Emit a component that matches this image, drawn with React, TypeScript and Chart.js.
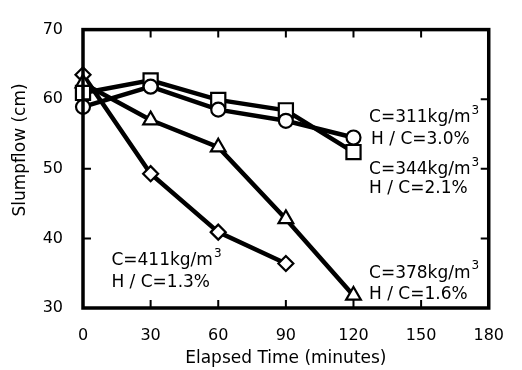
import React, { useEffect, useRef } from "react";
import { Chart, registerables } from "chart.js";

Chart.register(...registerables);

const times = [0, 30, 60, 90, 120];
const c311 = [58.9, 61.8, 58.5, 56.9, 54.5];
const c344 = [60.9, 62.7, 59.9, 58.4, 52.4];
const c378 = [62.3, 57.0, 53.1, 42.8, 31.8];
const c411 = [63.5, 49.3, 40.9, 36.4];

const xTicks = [0, 30, 60, 90, 120, 150, 180];
const yTicks = [30, 40, 50, 60, 70];

const xTitle = "Elapsed Time (minutes)";
const yTitle = "Slumpflow (cm)";

const labelTexts = [
  "C=311kg/m", "H / C=3.0%",
  "C=344kg/m", "H / C=2.1%",
  "C=378kg/m", "H / C=1.6%",
  "C=411kg/m", "H / C=1.3%",
];
const labelSup = ["3", "", "3", "", "3", "", "3", ""];
const labelX = [126.9, 127.8, 126.9, 126.9, 126.9, 126.9, 12.6, 12.6];
const labelY = [57.3, 54.2, 49.9, 47.1, 35.0, 32.0, 36.8, 33.6];

const FONT = "'DejaVu Sans', sans-serif";

const framePlugin = {
  id: "framePlugin",
  afterDraw(chart: any) {
    const { ctx, chartArea } = chart;
    const { left, right, top, bottom } = chartArea;
    const xs = chart.scales.x;
    const ys = chart.scales.y;
    ctx.save();
    ctx.strokeStyle = "#000";
    ctx.lineWidth = 2;
    const tl = 8;
    ctx.beginPath();
    xTicks.forEach((v) => {
      if (v === 0 || v === 180) return;
      const px = xs.getPixelForValue(v);
      ctx.moveTo(px, bottom);
      ctx.lineTo(px, bottom - tl);
      ctx.moveTo(px, top);
      ctx.lineTo(px, top + tl);
    });
    yTicks.forEach((v) => {
      if (v === 30 || v === 70) return;
      const py = ys.getPixelForValue(v);
      ctx.moveTo(left, py);
      ctx.lineTo(left + tl, py);
      ctx.moveTo(right, py);
      ctx.lineTo(right - tl, py);
    });
    ctx.stroke();
    ctx.lineWidth = 3.5;
    ctx.strokeRect(left, top, right - left, bottom - top);
    ctx.fillStyle = "#000";
    ctx.textAlign = "left";
    ctx.textBaseline = "middle";
    labelTexts.forEach((t, i) => {
      const px = xs.getPixelForValue(labelX[i]);
      const py = ys.getPixelForValue(labelY[i]);
      ctx.font = `17px ${FONT}`;
      ctx.fillText(t, px, py);
      if (labelSup[i]) {
        const w = ctx.measureText(t).width;
        ctx.font = `12px ${FONT}`;
        ctx.fillText(labelSup[i], px + w + 1, py - 7);
      }
    });
    ctx.font = `17px ${FONT}`;
    ctx.translate(21, 150);
    ctx.rotate(-Math.PI / 2);
    ctx.textAlign = "center";
    ctx.fillText(yTitle, 0, 0);
    ctx.restore();
  },
};

function mk(label: string, data: number[], style: string, r: number) {
  return {
    label,
    data: data.map((v, i) => ({ x: times[i], y: v })),
    borderColor: "#000",
    borderWidth: 4.5,
    pointStyle: style,
    pointRadius: r,
    pointBackgroundColor: "#fff",
    pointBorderColor: "#000",
    pointBorderWidth: 2.2,
    clip: false,
    tension: 0,
  };
}

export default function App() {
  const ref = useRef<HTMLCanvasElement>(null);
  useEffect(() => {
    if (!ref.current) return;
    const chart = new Chart(ref.current, {
      type: "line",
      data: {
        datasets: [
          mk("C=311", c311, "circle", 7),
          mk("C=344", c344, "rect", 10),
          mk("C=378", c378, "triangle", 8.5),
          mk("C=411", c411, "rectRot", 7.5),
        ] as any,
      },
      options: {
        animation: false,
        responsive: false,
        layout: { padding: { top: 15, right: 29, left: 0, bottom: 0 } },
        plugins: { legend: { display: false }, tooltip: { enabled: false } },
        scales: {
          x: {
            type: "linear",
            min: 0,
            max: 180,
            afterFit: (s: any) => { s.height = 62; },
            afterBuildTicks: (s: any) => { s.ticks = xTicks.map((v) => ({ value: v })); },
            grid: { display: false, drawTicks: false },
            border: { display: false },
            ticks: { color: "#000", font: { family: FONT, size: 16 }, padding: 18 },
            title: { display: true, text: xTitle, color: "#000", font: { family: FONT, size: 17 }, padding: { top: 0, bottom: 1 } },
          },
          y: {
            type: "linear",
            min: 30,
            max: 70,
            afterFit: (s: any) => { s.width = 83; },
            afterBuildTicks: (s: any) => { s.ticks = yTicks.map((v) => ({ value: v })); },
            grid: { display: false, drawTicks: false },
            border: { display: false },
            ticks: { color: "#000", font: { family: FONT, size: 16 }, padding: 20 },
          },
        },
      },
      plugins: [framePlugin],
    });
    return () => chart.destroy();
  }, []);
  return (
    <div style={{ position: "fixed", left: 0, top: 0, width: 522, height: 370, background: "#fff" }}>
      <canvas ref={ref} width={522} height={370} style={{ width: 522, height: 370 }} />
    </div>
  );
}
